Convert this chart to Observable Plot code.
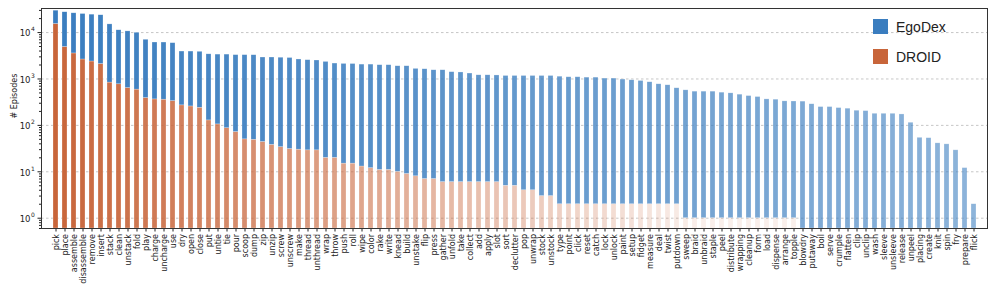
<!DOCTYPE html>
<html>
<head>
<meta charset="utf-8">
<script src="https://cdn.jsdelivr.net/npm/d3@7"></script>
<script src="https://cdn.jsdelivr.net/npm/@observablehq/plot@0.6"></script>
<style>
  html, body { margin: 0; padding: 0; background: white; }
  #wrap { position: relative; width: 997px; height: 293px; }
  .leg { position: absolute; display: flex; align-items: center; font-family: 'Liberation Sans', Arial, sans-serif; font-size: 14px; color: #222; }
  .sw { width: 15px; height: 15px; margin-right: 8px; }
</style>
</head>
<body>
<div id="wrap"></div>
<script>
const verbs = ["pick","place","assemble","disassemble","remove","insert","stack","clean","unstack","fold",
"play","charge","uncharge","use","dry","open","close","put","untie","tie",
"pour","scoop","dump","zip","unzip","screw","unscrew","make","thread","unthread",
"wrap","throw","push","roll","wipe","color","rake","write","knead","build",
"unstake","flip","press","gather","unfold","take","collect","add","apply","slot",
"sort","declutter","pop","unwrap","stock","unstock","type","point","click","reset",
"catch","lock","unlock","paint","setup","fidget","measure","deal","twist","putdown",
"sweep","braid","unbraid","staple","peel","distribute","wrapping","cleanup","form","load",
"dispense","arrange","topple","blowdry","putaway","boil","serve","crumple","flatten","clip",
"unclip","wash","sleeve","unsleeve","release","unpeel","placing","create","knit","spin",
"fry","prepare","flick"];

const egodex = [14300,22500,22450,22470,21920,21500,14160,10430,9960,9310,
6610,5740,5740,5570,3630,3640,3610,3270,3245,3263,
3190,3210,3200,2856,2862,2836,2800,2600,2511,2471,
2310,2130,2095,2085,2027,2028,1969,1969,1870,1871,
1642,1613,1533,1534,1394,1374,1304,1194,1194,1184,
1155,1155,1156,1156,1157,1157,1118,1088,1088,1068,
1068,1018,1018,969,935,904,847,766,729,628,
568,532,532,532,506,489,458,427,407,362,
357,328,326,325,285,248,248,236,229,207,
203,178,178,178,172,114,54,53,41,39,
29,12,2];

const droid = [15300,4900,3550,2630,2380,2100,836,768,638,590,
389,363,358,334,270,256,240,128,105,87,
72,50,49,44,38,34,31,30,29,29,
20,20,15,15,13,12,11,11,10,9,
8,7,7,6,6,6,6,6,6,6,
5,5,4,4,3,3,2,2,2,2,
2,2,2,2,2,2,2,2,2,2,
1,1,1,1,1,1,1,1,1,1,
1,1,1,0,0,0,0,0,0,0,
0,0,0,0,0,0,0,0,0,0,
0,0,0];

const yTicks = [1, 10, 100, 1000, 10000];
const yTickBase = "10";
const yTickExponents = ["0", "1", "2", "3", "4"];
const seriesNames = ["EgoDex", "DROID"];
const seriesColors = ["#3a7dbf", "#c8653a"];
const yLabel = "# Episodes";

const yMin = 0.6, yMax = 33000;
const rows = verbs.map((v, i) => ({verb: v, i, droid: droid[i], egodex: egodex[i], total: droid[i] + egodex[i]}));
const minors = [];
for (let e = -1; e <= 4; e++) for (let m = 2; m <= 9; m++) {
  const v = m * Math.pow(10, e);
  if (v >= yMin && v <= yMax) minors.push(v);
}

const chart = Plot.plot({
  width: 997, height: 293,
  marginLeft: 41, marginRight: 10, marginTop: 8, marginBottom: 65,
  style: {fontFamily: "'DejaVu Sans', sans-serif", fontSize: "8px", color: "#222", background: "white", overflow: "visible"},
  x: {type: "band", domain: verbs, paddingInner: 0.45, paddingOuter: 0.77},
  y: {type: "log", domain: [yMin, yMax]},
  opacity: {type: "linear", domain: [0, 1], range: [0, 1]},
  marks: [
    Plot.gridY(yTicks, {stroke: "#b8b8b8", strokeOpacity: 1, strokeWidth: 0.8, strokeDasharray: "2.5,2.5"}),
    Plot.barY(rows.filter(d => d.droid > 0), {
      x: "verb", y1: () => yMin, y2: "droid",
      fill: seriesColors[1], fillOpacity: d => Math.max(0.1, 1 - d.i / 80),
      stroke: "white", strokeWidth: 0.5, strokeOpacity: 0.5
    }),
    Plot.barY(rows, {
      x: "verb", y1: d => d.droid > 0 ? d.droid : yMin, y2: "total",
      fill: seriesColors[0], fillOpacity: d => 1 - 0.42 * d.i / 102,
      stroke: "white", strokeWidth: 0.5, strokeOpacity: 0.5
    }),
    Plot.axisX({tickRotate: -90, tickSize: 3.5, tickPadding: 2, label: null, fontSize: 8}),
    Plot.axisY(minors, {tickSize: 2, tickFormat: () => "", label: null}),
    Plot.axisY(yTicks, {tickSize: 3.5, tickFormat: () => "", label: null}),
    Plot.text(yTicks, {frameAnchor: "left", y: d => d, text: () => yTickBase, textAnchor: "end", dx: -11, dy: 1, fontSize: 8.5}),
    Plot.text(yTicks, {frameAnchor: "left", y: d => d, text: d => yTickExponents[yTicks.indexOf(d)], textAnchor: "start", dx: -10.5, dy: -3, fontSize: 6}),
    Plot.text([yLabel], {frameAnchor: "left", rotate: -90, dx: -27, fontSize: 8}),
    Plot.frame({stroke: "#333", strokeWidth: 1})
  ]
});

const wrap = document.getElementById("wrap");
wrap.appendChild(chart);

const legTops = [19, 49];
seriesNames.forEach((name, k) => {
  const item = document.createElement("div");
  item.className = "leg";
  item.style.left = "873px";
  item.style.top = legTops[k] + "px";
  item.style.height = "15px";
  const sw = document.createElement("div");
  sw.className = "sw";
  sw.style.background = seriesColors[k];
  const t = document.createElement("span");
  t.textContent = name;
  item.appendChild(sw);
  item.appendChild(t);
  wrap.appendChild(item);
});
</script>
</body>
</html>
